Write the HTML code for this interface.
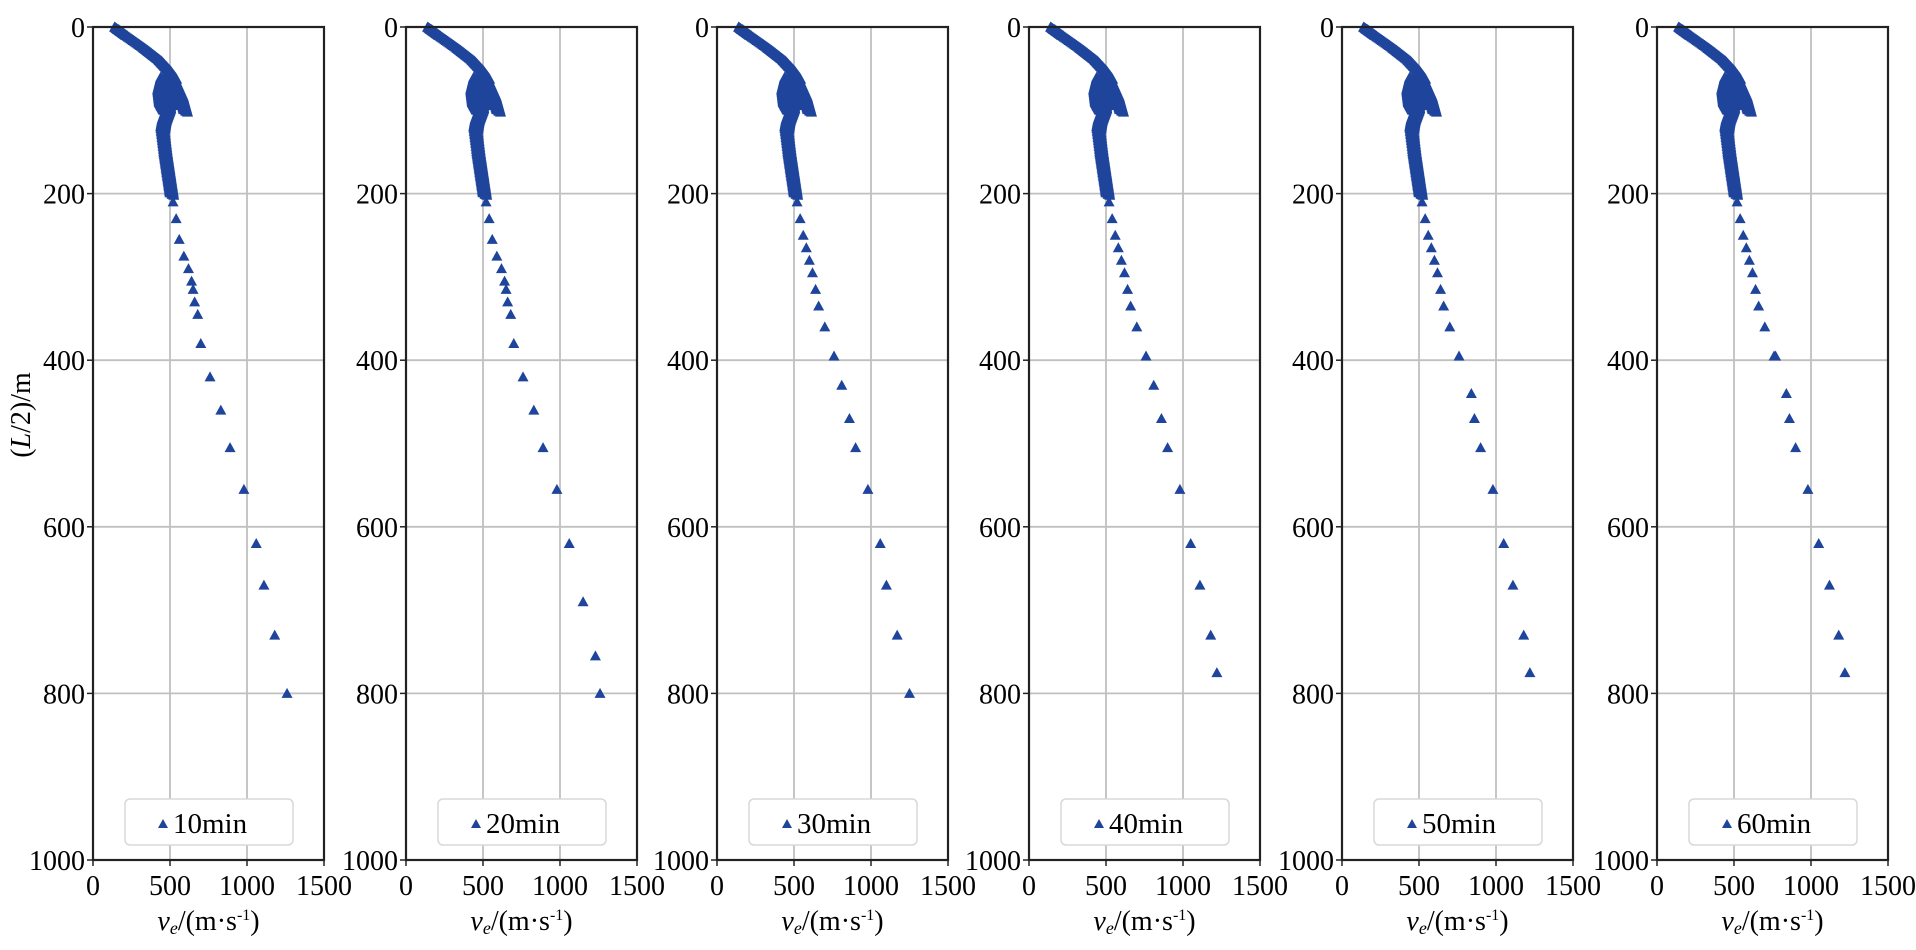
<!DOCTYPE html>
<html><head><meta charset="utf-8"><style>
body{margin:0;background:#fff;}
svg text{font-family:"Liberation Serif","Times New Roman",serif;fill:#000;}
</style></head><body>
<svg id="s" width="1916" height="945" xmlns="http://www.w3.org/2000/svg">
<text x="0" y="0" transform="translate(30,415) rotate(-90)" font-size="28" text-anchor="middle">(<tspan font-style="italic">L</tspan>/2)/m</text>
</svg>
<script>
const S=document.getElementById('s');const NS='http://www.w3.org/2000/svg';
function el(t,a,txt){const e=document.createElementNS(NS,t);for(const k in a)e.setAttribute(k,a[k]);if(txt!==undefined)e.innerHTML=txt;S.appendChild(e);return e;}
const X0=[93,406,717,1029,1342,1657],W=231,Y0=27,Y1=860;
const C='#1f449c';
const common=[[520,210],[540,230],[560,255],[590,275],[620,290],[640,305],[650,315],[660,330],[680,345],[700,380],[760,420],[830,460],[890,505],[980,555]];
const late=[[520,210],[540,230],[560,250],[580,265],[600,280],[620,295],[640,315],[660,335],[700,360],[760,395],[810,430],[860,470],[900,505],[980,555]];
const sparse=[
 common.concat([[1060,620],[1110,670],[1180,730],[1260,800]]),
 common.concat([[1060,620],[1150,690],[1230,755],[1260,800]]),
 late.concat([[1060,620],[1100,670],[1170,730],[1250,800]]),
 late.concat([[1050,620],[1110,670],[1180,730],[1220,775]]),
 late.slice(0,10).concat([[760,395],[840,440],[860,470],[900,505],[980,555],[1050,620],[1110,670],[1180,730],[1220,775]]),
 late.slice(0,10).concat([[770,395],[840,440],[860,470],[900,505],[980,555],[1050,620],[1120,670],[1180,730],[1220,775]])
];
function dense(){const p=[];
 const segs=[[[140,0],[200,8],[330,25],[420,38],[480,50],[520,60]],[[500,55],[560,80],[590,100]],[[440,60],[420,75],[430,90],[460,100],[470,80],[480,95],[450,110],[440,120],[460,150],[480,175],[500,200]],[[440,70],[490,70],[500,90],[440,95]]];
 for(const s of segs){for(let i=0;i<s.length-1;i++){const[a,b]=[s[i],s[i+1]];for(let t=0;t<1;t+=0.06){const x=a[0]+(b[0]-a[0])*t,y=a[1]+(b[1]-a[1])*t;p.push([x,y]);p.push([x+14,y+2]);p.push([x+25,y+3]);}}}
 return p;}
for(let k=0;k<6;k++){
 const x0=X0[k],sx=W/1500,sy=(Y1-Y0)/1000;
 const X=v=>x0+v*sx,Y=v=>Y0+v*sy;
 for(const v of [500,1000])el('line',{x1:X(v),x2:X(v),y1:Y0,y2:Y1,stroke:'#c0c0c0','stroke-width':1.8});
 for(const v of [200,400,600,800])el('line',{x1:x0,x2:x0+W,y1:Y(v),y2:Y(v),stroke:'#c0c0c0','stroke-width':1.8});
 const pts=dense().concat(sparse[k]);
 let d='';for(const[a,b] of pts){const x=X(a),y=Y(b);d+=`M${x-5.5},${y+4.5}L${x+5.5},${y+4.5}L${x},${y-5.5}Z`;}
 el('path',{d:d,fill:C});
 el('rect',{x:x0,y:Y0,width:W,height:Y1-Y0,fill:'none',stroke:'#222','stroke-width':2.2});
 for(const v of [0,200,400,600,800,1000]){el('line',{x1:x0-6,x2:x0,y1:Y(v),y2:Y(v),stroke:'#222','stroke-width':1.5});el('text',{x:x0-8,y:Y(v)+10,'font-size':28,'text-anchor':'end'},v);}
 for(const v of [0,500,1000,1500]){el('line',{x1:X(v),x2:X(v),y1:Y1,y2:Y1+6,stroke:'#222','stroke-width':1.5});el('text',{x:X(v),y:Y1+35,'font-size':28,'text-anchor':'middle'},v);}
 el('text',{x:x0+W/2,y:Y1+70,'font-size':28,'text-anchor':'middle'},'<tspan font-style="italic">v<tspan font-size="18" dy="4">e</tspan></tspan><tspan dy="-4">/(m·s</tspan><tspan font-size="16" dy="-10">-1</tspan><tspan dy="10">)</tspan>');
 el('rect',{x:x0+32,y:799,width:168,height:46,rx:5,fill:'#fff',stroke:'#d8d8d8','stroke-width':1.5});
 const lx=x0+70,ly=824;el('path',{d:`M${lx-5},${ly+4}L${lx+5},${ly+4}L${lx},${ly-5}Z`,fill:C});
 el('text',{x:x0+80,y:833,'font-size':29},(k+1)*10+'min');
}
</script>
</body></html>
